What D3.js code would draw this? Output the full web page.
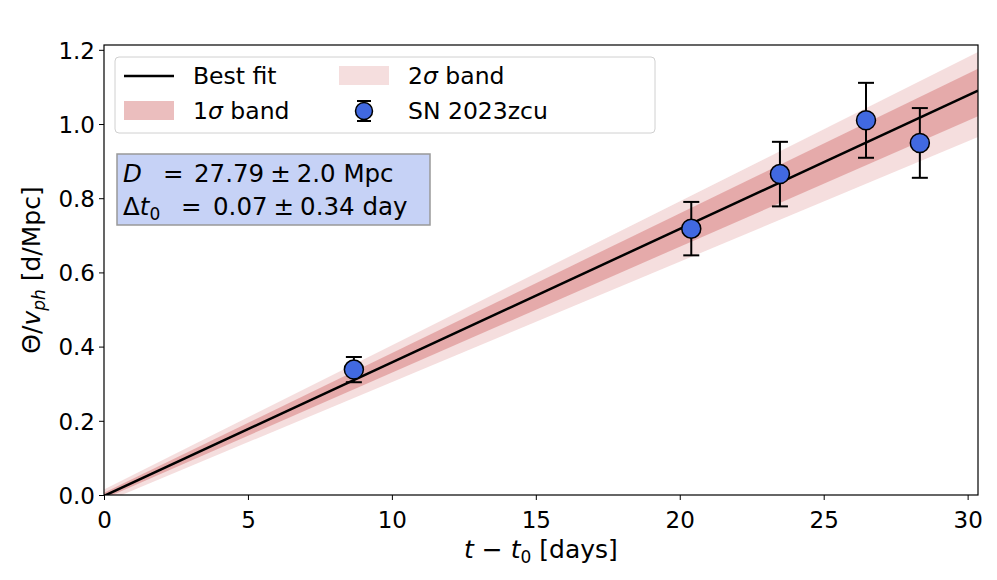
<!DOCTYPE html>
<html><head><meta charset="utf-8">
<script src="https://cdn.jsdelivr.net/npm/d3@7"></script>
<style>
body{margin:0;background:#fff;}
svg{font-family:"DejaVu Sans",sans-serif;}
</style></head><body>
<svg id="c" width="997" height="580"></svg>
<script>
// ---- data ----
const obsT = [8.68, 20.40, 23.48, 26.47, 28.34];
const obsY = [0.338, 0.718, 0.865, 1.010, 0.949];
const obsErr = [0.034, 0.072, 0.087, 0.101, 0.094];
const fitX = [0, 30.36];
const fitY = [-0.0025, 1.090];
const band1Lo = [-0.010, 1.021];
const band1Hi = [0.006, 1.149];
const band2Lo = [-0.020, 0.965];
const band2Hi = [0.015, 1.194];
const xTicks = [0, 5, 10, 15, 20, 25, 30];
const yTicks = [0.0, 0.2, 0.4, 0.6, 0.8, 1.0, 1.2];
const xDomain = [0, 30.36];
const yDomain = [0, 1.213];

const svg = d3.select("#c");
const L = 104, R = 978, T = 45, B = 495;
const x = d3.scaleLinear().domain(xDomain).range([L, R]);
const y = d3.scaleLinear().domain(yDomain).range([B, T]);

svg.append("defs").append("clipPath").attr("id","clip")
  .append("rect").attr("x",L).attr("y",T).attr("width",R-L).attr("height",B-T);
const g = svg.append("g").attr("clip-path","url(#clip)");

const idx = d3.range(fitX.length);
const band = (lo, hi) => d3.area().x(i => x(fitX[i])).y0(i => y(lo[i])).y1(i => y(hi[i]))(idx);
g.append("path").attr("d", band(band2Lo, band2Hi)).attr("fill","#cd5c5c").attr("fill-opacity",0.2);
g.append("path").attr("d", band(band1Lo, band1Hi)).attr("fill","#cd5c5c").attr("fill-opacity",0.4);
g.append("path").attr("d", d3.line().x(i => x(fitX[i])).y(i => y(fitY[i]))(idx))
  .attr("stroke","#000").attr("stroke-width",2.5).attr("fill","none");

// error bars
const eb = svg.append("g");
obsT.forEach((t,i)=>{
  const cx = x(t), lo = y(obsY[i]-obsErr[i]), hi = y(obsY[i]+obsErr[i]);
  eb.append("line").attr("x1",cx).attr("x2",cx).attr("y1",lo).attr("y2",hi).attr("stroke","#000").attr("stroke-width",2);
  [lo,hi].forEach(v=>eb.append("line").attr("x1",cx-8).attr("x2",cx+8).attr("y1",v).attr("y2",v).attr("stroke","#000").attr("stroke-width",2));
});
obsT.forEach((t,i)=>{
  eb.append("circle").attr("cx",x(t)).attr("cy",y(obsY[i])).attr("r",9.5)
    .attr("fill","#4169e1").attr("stroke","#000").attr("stroke-width",1.5);
});

// axes
const xa = svg.append("g").attr("transform",`translate(0,${B})`)
  .call(d3.axisBottom(x).tickValues(xTicks).tickFormat(d3.format("d")).tickSize(5).tickPadding(4));
const ya = svg.append("g").attr("transform",`translate(${L},0)`)
  .call(d3.axisLeft(y).tickValues(yTicks).tickFormat(d3.format(".1f")).tickSize(5).tickPadding(4));
[xa,ya].forEach(a=>{
  a.select(".domain").remove();
  a.selectAll("text").attr("font-size",23).attr("font-family","DejaVu Sans").attr("fill","#000");
  a.selectAll("line").attr("stroke","#000").attr("stroke-width",1);
});
xa.selectAll("text").attr("y",33).attr("dy",0);
ya.selectAll("text").attr("dy","0.36em");
svg.append("rect").attr("x",L).attr("y",T).attr("width",R-L).attr("height",B-T)
  .attr("fill","none").attr("stroke","#000").attr("stroke-width",1.2);

// axis labels
const xl = svg.append("text").attr("x",(L+R)/2).attr("y",558).attr("text-anchor","middle").attr("font-size",25)
  .attr("xml:space","preserve");
xl.append("tspan").attr("font-style","italic").text("t");
xl.append("tspan").text(" \u2212 ");
xl.append("tspan").attr("font-style","italic").text("t");
xl.append("tspan").attr("font-size",17).attr("dy",5).text("0");
xl.append("tspan").attr("dy",-5).text(" [days]");

const yl = svg.append("text").attr("transform","translate(40,270) rotate(-90)").attr("text-anchor","middle").attr("font-size",25);
yl.append("tspan").text("\u0398/");
yl.append("tspan").attr("font-style","italic").text("v");
yl.append("tspan").attr("font-style","italic").attr("font-size",17).attr("dy",5).text("ph");
yl.append("tspan").attr("dy",-5).text(" [d/Mpc]");

// legend
const lg = svg.append("g");
lg.append("rect").attr("x",115).attr("y",57).attr("width",540).attr("height",76).attr("rx",4)
  .attr("fill","#fff").attr("fill-opacity",0.8).attr("stroke","#d0d0d0").attr("stroke-width",1);
const fs = 23.5;
lg.append("line").attr("x1",124).attr("x2",174).attr("y1",76).attr("y2",76).attr("stroke","#000").attr("stroke-width",2.5);
lg.append("text").attr("x",193).attr("y",84).attr("font-size",fs).text("Best fit");
lg.append("rect").attr("x",124).attr("y",101).attr("width",50).attr("height",19).attr("fill","#cd5c5c").attr("fill-opacity",0.4);
const t1 = lg.append("text").attr("x",193).attr("y",119).attr("font-size",fs);
t1.append("tspan").text("1"); t1.append("tspan").attr("font-style","italic").text("\u03c3"); t1.append("tspan").text(" band");
lg.append("rect").attr("x",339).attr("y",66).attr("width",50).attr("height",19).attr("fill","#cd5c5c").attr("fill-opacity",0.2);
const t2 = lg.append("text").attr("x",408).attr("y",84).attr("font-size",fs);
t2.append("tspan").text("2"); t2.append("tspan").attr("font-style","italic").text("\u03c3"); t2.append("tspan").text(" band");
const mx = 364, my = 111;
lg.append("line").attr("x1",mx).attr("x2",mx).attr("y1",my-10).attr("y2",my+10).attr("stroke","#000").attr("stroke-width",2);
[my-10,my+10].forEach(v=>lg.append("line").attr("x1",mx-7).attr("x2",mx+7).attr("y1",v).attr("y2",v).attr("stroke","#000").attr("stroke-width",2));
lg.append("circle").attr("cx",mx).attr("cy",my).attr("r",8.5).attr("fill","#4169e1").attr("stroke","#000").attr("stroke-width",1.5);
lg.append("text").attr("x",408).attr("y",119).attr("font-size",fs).text("SN 2023zcu");

// text box
const tb = svg.append("g").attr("font-size",24.5);
tb.append("rect").attr("x",117).attr("y",154).attr("width",313).attr("height",71)
  .attr("fill","#4169e1").attr("fill-opacity",0.3).attr("stroke","#999").attr("stroke-width",1.5);
tb.append("text").attr("x",123).attr("y",182).attr("font-style","italic").text("D");
tb.append("text").attr("x",163).attr("y",182).text("=");
const v1 = tb.append("text").attr("x",194).attr("y",182);
v1.append("tspan").text("27.79");
v1.append("tspan").attr("dx",6).text("\u00b1");
v1.append("tspan").attr("dx",6).text("2.0");
v1.append("tspan").text(" Mpc");
const dt = tb.append("text").attr("x",123).attr("y",215);
dt.append("tspan").text("\u0394");
dt.append("tspan").attr("font-style","italic").text("t");
dt.append("tspan").attr("font-size",17).attr("dy",5).text("0");
tb.append("text").attr("x",181).attr("y",215).text("=");
const v2 = tb.append("text").attr("x",213).attr("y",215);
v2.append("tspan").text("0.07");
v2.append("tspan").attr("dx",6).text("\u00b1");
v2.append("tspan").attr("dx",6).text("0.34");
v2.append("tspan").text(" day");
</script>
</body></html>
